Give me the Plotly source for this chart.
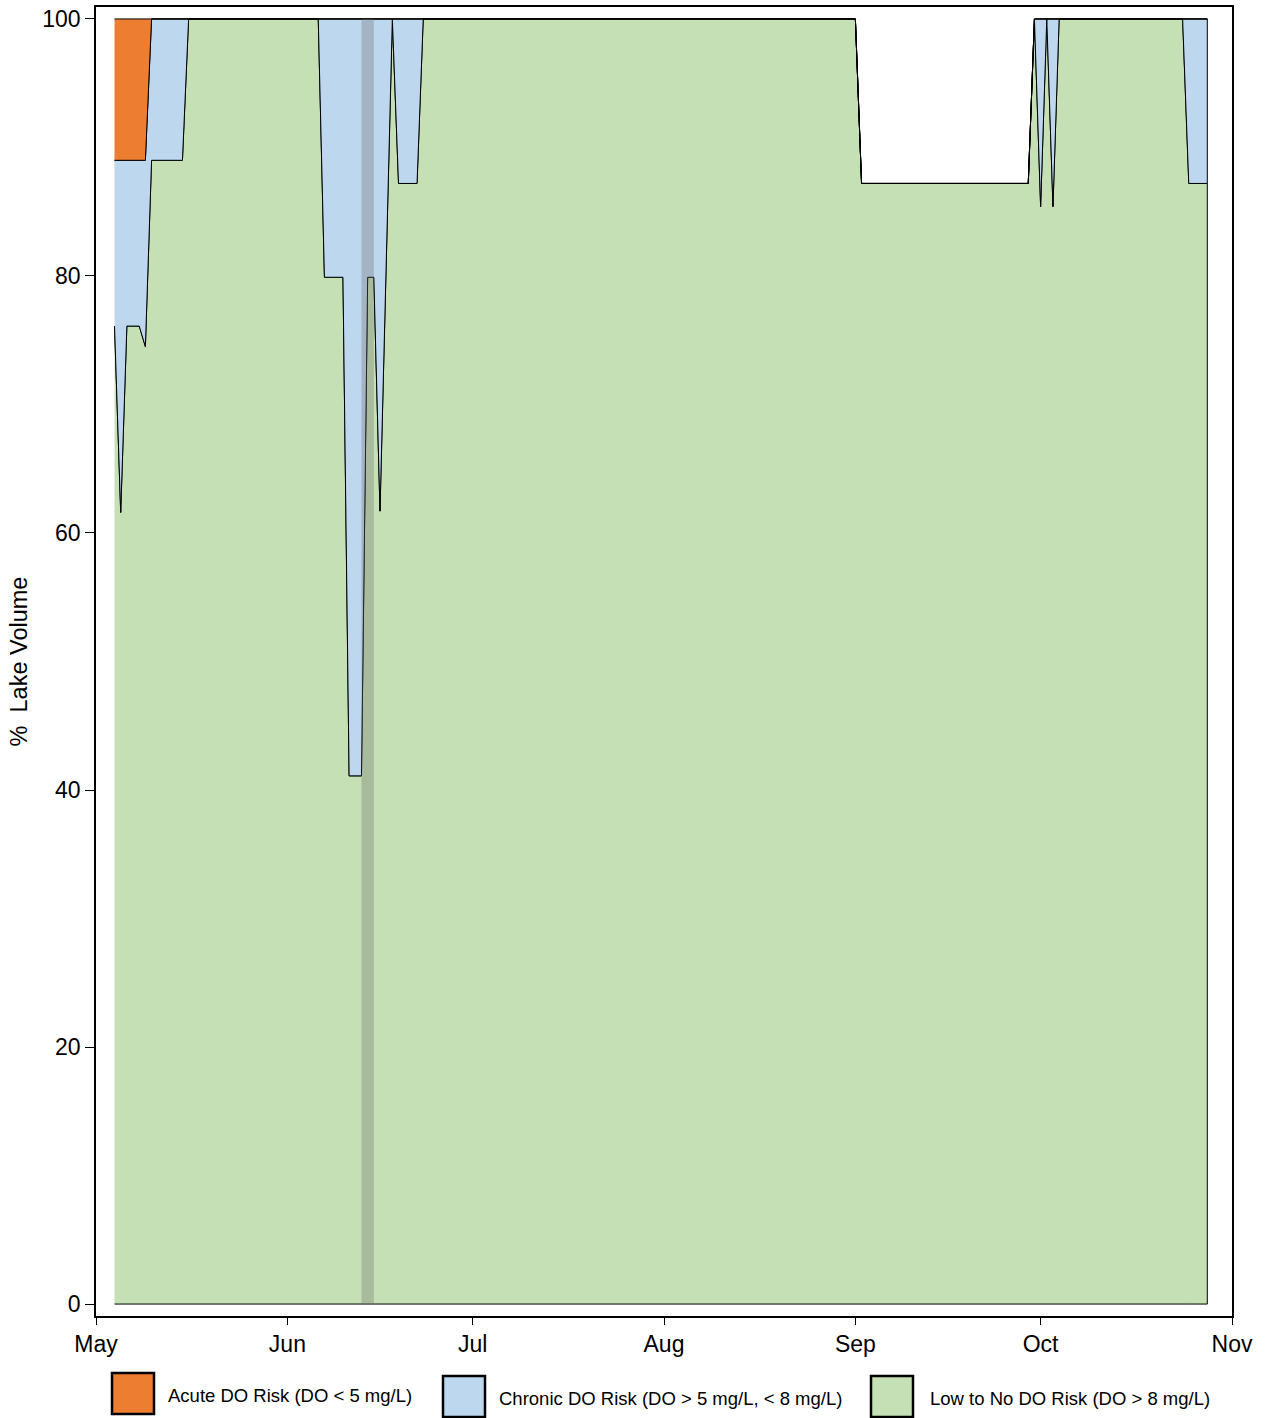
import plotly.graph_objects as go

# ---- data (vertex dates and % lake volume in each DO-risk class) ----
dates = ["2023-05-04", "2023-05-05", "2023-05-06", "2023-05-08", "2023-05-09",
         "2023-05-10", "2023-05-15", "2023-05-16", "2023-06-06", "2023-06-07",
         "2023-06-10", "2023-06-11", "2023-06-13", "2023-06-14", "2023-06-15",
         "2023-06-16", "2023-06-18", "2023-06-19", "2023-06-22", "2023-06-23",
         "2023-09-01", "2023-09-02", "2023-09-29", "2023-09-30", "2023-10-01",
         "2023-10-02", "2023-10-03", "2023-10-04", "2023-10-24", "2023-10-25",
         "2023-10-28"]
low_risk = [76.1, 61.6, 76.1, 76.1, 74.5,
            89.0, 89.0, 100.0, 100.0, 79.9,
            79.9, 41.1, 41.1, 79.9, 79.9,
            61.7, 100.0, 87.2, 87.2, 100.0,
            100.0, 87.2, 87.2, 100.0, 85.4,
            100.0, 85.4, 100.0, 100.0, 87.2,
            87.2]
chronic_risk = [12.9, 27.4, 12.9, 12.9, 14.5,
                11.0, 11.0, 0.0, 0.0, 20.1,
                20.1, 58.9, 58.9, 20.1, 20.1,
                38.3, 0.0, 12.8, 12.8, 0.0,
                0.0, 0.0, 0.0, 0.0, 14.6,
                0.0, 14.6, 0.0, 0.0, 12.8,
                12.8]
acute_risk = [11.0, 11.0, 11.0, 11.0, 11.0,
              0.0, 0.0, 0.0, 0.0, 0.0,
              0.0, 0.0, 0.0, 0.0, 0.0,
              0.0, 0.0, 0.0, 0.0, 0.0,
              0.0, 0.0, 0.0, 0.0, 0.0,
              0.0, 0.0, 0.0, 0.0, 0.0,
              0.0]
band_start = "2023-06-13"
band_end = "2023-06-15"
month_ticks = ["2023-05-01", "2023-06-01", "2023-07-01", "2023-08-01",
               "2023-09-01", "2023-10-01", "2023-11-01"]
month_labels = ["May", "Jun", "Jul", "Aug", "Sep", "Oct", "Nov"]
y_ticks = [0, 20, 40, 60, 80, 100]
legend_labels = ["Acute DO Risk (DO < 5 mg/L)",
                 "Chronic DO Risk (DO > 5 mg/L, < 8 mg/L)",
                 "Low to No DO Risk (DO > 8 mg/L)"]

# ---- styles ----
C_ACUTE = "#ed7d31"
C_CHRONIC = "#bdd7ee"
C_LOW = "#c5e0b4"
FONT = "Liberation Sans, Arial, sans-serif"

W, H = 1265, 1418
ML, MR, MT, MB = 96, 33, 7, 102

lvl1 = list(low_risk)
lvl2 = [a + b for a, b in zip(low_risk, chronic_risk)]
lvl3 = [a + b for a, b in zip(lvl2, acute_risk)]
zeros = [0.0] * len(dates)
xs = dates + dates[::-1]

fig = go.Figure()
for upper, lower, col, name in [(lvl1, zeros, C_LOW, legend_labels[2]),
                                (lvl2, lvl1, C_CHRONIC, legend_labels[1]),
                                (lvl3, lvl2, C_ACUTE, legend_labels[0])]:
    fig.add_trace(go.Scatter(
        x=xs, y=upper + lower[::-1], mode="lines", fill="toself",
        fillcolor=col, line=dict(color="black", width=1),
        name=name, showlegend=False, hoverinfo="skip"))

fig.add_shape(type="rect", xref="x", yref="y", x0=band_start, x1=band_end,
              y0=0, y1=100, fillcolor="rgba(113,113,113,0.33)",
              line=dict(width=0), layer="above")

fig.update_xaxes(
    type="date", range=[month_ticks[0], month_ticks[-1]],
    tickmode="array", tickvals=month_ticks, ticktext=month_labels,
    ticks="outside", ticklen=7, tickwidth=1.2, tickcolor="black",
    showline=True, linecolor="black", linewidth=1.5, mirror=True,
    showgrid=False, zeroline=False,
    tickfont=dict(family=FONT, size=23, color="black"))
fig.update_yaxes(
    range=[-0.93, 100.93], tickmode="array", tickvals=y_ticks,
    ticks="outside", ticklen=9, tickwidth=1.2, tickcolor="black",
    showline=True, linecolor="black", linewidth=1.5, mirror=True,
    showgrid=False, zeroline=False,
    tickfont=dict(family=FONT, size=23, color="black"),
    title=dict(text="%  Lake Volume", standoff=8,
               font=dict(family=FONT, size=23.5, color="black")))

# ---- manual legend (boxes + labels) below the plot ----
pw = W - ML - MR
ph = H - MT - MB


def px_x(p):
    return (p - ML) / pw


def px_y(p):
    return (H - MB - p) / ph


legend_items = [(C_ACUTE, legend_labels[0], 112, 1373, 166),
                (C_CHRONIC, legend_labels[1], 443, 1376, 497),
                (C_LOW, legend_labels[2], 871, 1376, 928)]
for col, lab, bx, by, tx in legend_items:
    fig.add_shape(type="rect", xref="paper", yref="paper",
                  x0=px_x(bx), x1=px_x(bx + 42), y0=px_y(by + 41), y1=px_y(by),
                  fillcolor=col, line=dict(color="black", width=2.5))
    fig.add_annotation(xref="paper", yref="paper", x=px_x(tx),
                       y=px_y(by + 22), text=lab, showarrow=False,
                       xanchor="left", yanchor="middle",
                       font=dict(family=FONT, size=18.5, color="black"))

fig.update_layout(
    width=W, height=H, plot_bgcolor="white", paper_bgcolor="white",
    margin=dict(l=ML, r=MR, t=MT, b=MB, autoexpand=False),
    showlegend=False)

fig.write_html("out.html")
